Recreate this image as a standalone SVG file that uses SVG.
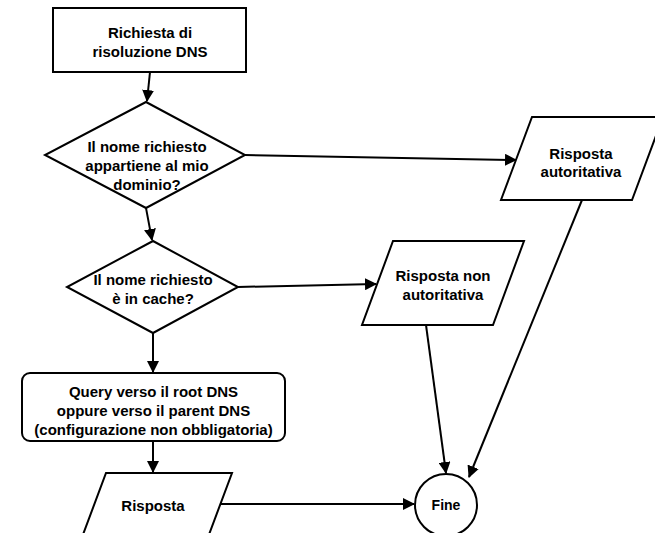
<svg xmlns="http://www.w3.org/2000/svg" width="655" height="533" viewBox="0 0 655 533">
<defs>
<style>
.s{fill:#fff;stroke:#000;stroke-width:2}
.t{font-family:"Liberation Sans",Arial,sans-serif;font-size:15px;font-weight:bold;fill:#000;text-anchor:middle;dominant-baseline:central}
.c{fill:none;stroke:#000;stroke-width:2}
</style>
<marker id="a" markerUnits="userSpaceOnUse" markerWidth="12" markerHeight="12" viewBox="0 0 12 12" refX="11" refY="6" orient="auto">
<path d="M0,0 L12,6 L0,12 Z" fill="#000"/>
</marker>
</defs>
<rect width="655" height="533" fill="#fff"/>
<g id="connectors">
<line class="c" x1="150" y1="72" x2="147" y2="101" marker-end="url(#a)"/>
<line class="c" x1="146" y1="208" x2="152" y2="240" marker-end="url(#a)"/>
<line class="c" x1="245" y1="155" x2="516" y2="160" marker-end="url(#a)"/>
<line class="c" x1="238" y1="287" x2="376" y2="284" marker-end="url(#a)"/>
<line class="c" x1="153" y1="333" x2="153" y2="372" marker-end="url(#a)"/>
<line class="c" x1="153" y1="441" x2="153" y2="472" marker-end="url(#a)"/>
<line class="c" x1="217" y1="504" x2="414" y2="504" marker-end="url(#a)"/>
<line class="c" x1="426" y1="325" x2="446" y2="473" marker-end="url(#a)"/>
<line class="c" x1="582" y1="200" x2="469" y2="477" marker-end="url(#a)"/>
</g>
<g id="n1">
<rect class="s" x="53" y="8" width="193" height="64"/>
<text class="t" x="150" y="32">Richiesta di</text>
<text class="t" x="150" y="51">risoluzione DNS</text>
</g>
<g id="n2">
<path class="s" d="M146,102 L245,155 L146,208 L45,155 Z"/>
<text class="t" x="147" y="146">Il nome richiesto</text>
<text class="t" x="147" y="165">appartiene al mio</text>
<text class="t" x="147" y="184">dominio?</text>
</g>
<g id="n3">
<path class="s" d="M153,241 L238,287 L153,333 L67,287 Z"/>
<text class="t" x="153" y="279">Il nome richiesto</text>
<text class="t" x="153" y="298">è in cache?</text>
</g>
<g id="n4">
<rect class="s" x="22" y="373" width="263" height="68" rx="8" ry="8"/>
<text class="t" x="153.5" y="391">Query verso il root DNS</text>
<text class="t" x="153.5" y="410">oppure verso il parent DNS</text>
<text class="t" x="153.5" y="429">(configurazione non obbligatoria)</text>
</g>
<g id="n5">
<path class="s" d="M106,473 L232,473 L201,556 L75,556 Z"/>
<text class="t" x="153" y="505">Risposta</text>
</g>
<g id="n6">
<path class="s" d="M532,117 L663,117 L632,200 L501,200 Z"/>
<text class="t" x="581" y="153">Risposta</text>
<text class="t" x="581" y="171">autoritativa</text>
</g>
<g id="n7">
<path class="s" d="M393,241 L524,241 L493,325 L362,325 Z"/>
<text class="t" x="443" y="275">Risposta non</text>
<text class="t" x="443" y="294">autoritativa</text>
</g>
<g id="n8">
<circle class="s" cx="446" cy="505" r="31"/>
<text class="t" x="446" y="505" style="font-size:14px">Fine</text>
</g>
</svg>
